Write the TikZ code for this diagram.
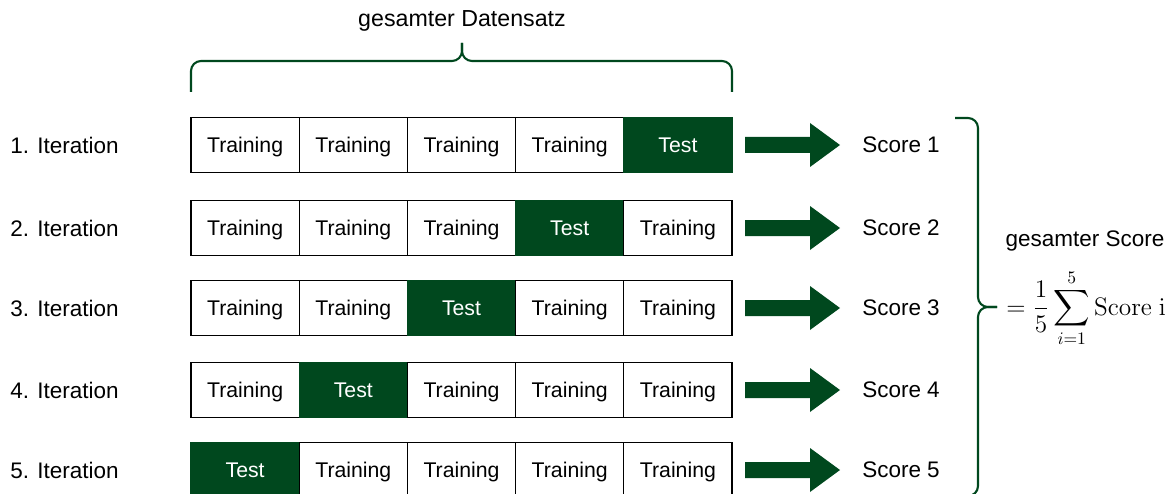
\documentclass[tikz,border=0pt]{standalone}
\usepackage[no-math]{fontspec}
\setmainfont{Liberation Sans}
\usepackage{amsmath}
\definecolor{tgreen}{RGB}{0,72,30}
\tikzset{
  lbl/.style={font=\fontsize{12.8}{15}\selectfont, inner sep=0pt},
  cell/.style={draw=black, line width=0.6pt, fill=white, minimum width=2.164cm, minimum height=1.09cm, inner sep=0pt, font=\fontsize{12.1}{14}\selectfont, text=black, text depth=0pt},
  testcell/.style={cell, draw=tgreen, fill=tgreen, text=white},
  brace/.style={draw=tgreen, line width=1.2pt, rounded corners=0.2cm},
  bigarrow/.style={fill=tgreen}
}
\begin{document}
\begin{tikzpicture}[x=0.02cm, y=-0.02cm]
\useasboundingbox (0,0) rectangle (1175,493);
% title and top brace
\node[lbl, font=\fontsize{13.2}{15}\selectfont] (title) at (462,21) {gesamter Datensatz};
\coordinate (tl) at (191,92);
\coordinate (tr) at (732,92);
\coordinate (tm) at (462,61);
\coordinate (tt) at (462,43);
\draw[brace] (tl) |- (tm) -- (tt);
\draw[brace] (tr) |- (tm) -- (tt);
% rows
\foreach \r/\y in {1/145, 2/228, 3/308, 4/390, 5/470} {
  \node[lbl, anchor=west] (it\r) at (10,\y) {\r. Iteration};
  \pgfmathtruncatemacro{\t}{6-\r}
  \foreach \k in {1,...,5} {
    \pgfmathsetmacro{\cx}{191+108.2*(\k-0.5)}
    \ifnum\k=\t
      \node[testcell] (c\r-\k) at (\cx,\y) {Test};
    \else
      \node[cell] (c\r-\k) at (\cx,\y) {Training};
    \fi
  }
  \node[lbl] (s\r) at (901,\y) {Score \r};
  \fill[bigarrow] (745,\y-8) -- (810,\y-8) -- (810,\y-22) -- (840,\y) -- (810,\y+22) -- (810,\y+8) -- (745,\y+8) -- cycle;
}
% right brace
\coordinate (rt) at (955,118);
\coordinate (rb) at (955,496);
\coordinate (rm) at (978,307);
\coordinate (rtip) at (997,307);
\draw[brace] (rt) -| (rm) -- (rtip);
\draw[brace] (rb) -| (rm) -- (rtip);
% total score
\node[lbl] (gs) at (1085,241) {gesamter Score};
\node[inner sep=0pt, anchor=base west, font=\fontsize{14}{17}\selectfont] (formula) at (1006,315) {$\displaystyle =\frac{1}{5}\sum_{i=1}^{5}\mathrm{Score\ i}$};
\end{tikzpicture}
\end{document}
